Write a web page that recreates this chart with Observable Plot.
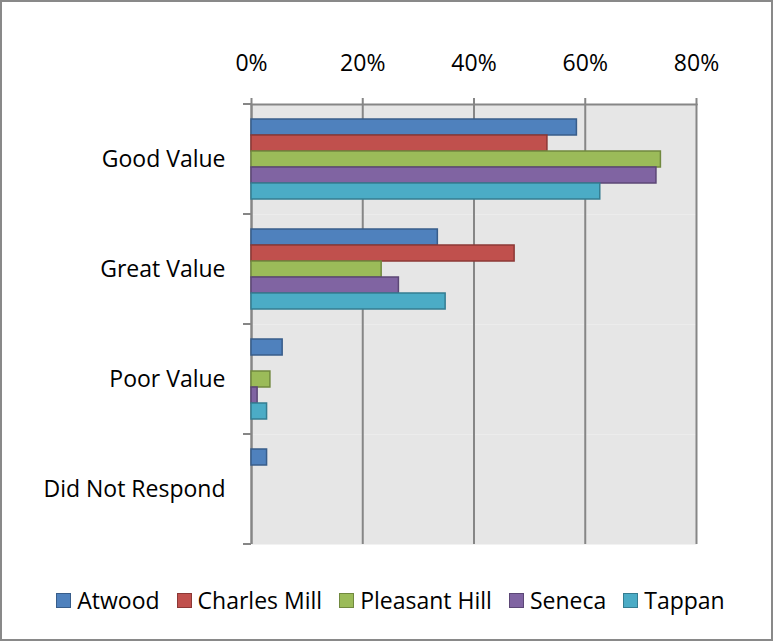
<!DOCTYPE html>
<html><head>
<meta charset="utf-8">
<script src="https://cdn.jsdelivr.net/npm/d3@7"></script>
<script src="https://cdn.jsdelivr.net/npm/@observablehq/plot@0.6"></script>
<style>
body{margin:0;background:#fff;}
#wrap{position:relative;width:773px;height:641px;overflow:hidden;font-family:"Open Sans",sans-serif;background:#fff;}
#chart{position:absolute;left:0;top:0;}
#border{position:absolute;left:0;top:0;width:773px;height:641px;box-sizing:border-box;border:2px solid #898989;pointer-events:none;}
#legend{position:absolute;left:0;top:584px;width:773px;box-sizing:border-box;padding-left:8px;display:flex;justify-content:center;gap:17px;font-size:23px;color:#000;line-height:32px;}
.item{display:flex;align-items:center;gap:6px;}
.sw{width:13px;height:13px;border:1px solid;}
</style></head>
<body><div id="wrap"><div id="chart"></div><div id="legend"></div><div id="border"></div></div>
<script>
const categories = ["Good Value", "Great Value", "Poor Value", "Did Not Respond"];
const series = ["Atwood", "Charles Mill", "Pleasant Hill", "Seneca", "Tappan"];
const atwood = [58.5, 33.5, 5.6, 2.8];
const charlesMill = [53.2, 47.3, 0, 0];
const pleasantHill = [73.6, 23.4, 3.4, 0];
const seneca = [72.8, 26.5, 1.1, 0];
const tappan = [62.7, 34.9, 2.8, 0];
const xTicks = [0, 20, 40, 60, 80];
const fills = ["#4F81BD", "#C0504D", "#9BBB59", "#8064A2", "#4BACC6"];
const strokes = ["#385D8A", "#8C3836", "#71893F", "#5C4776", "#357D91"];

const values = [atwood, charlesMill, pleasantHill, seneca, tappan];
const rows = [];
series.forEach((s, i) => categories.forEach((c, j) => rows.push({series: s, category: c, value: values[i][j]})));
const strokeOf = s => strokes[series.indexOf(s)];
const GRID = "#868686";

const boundaryTicks = (index, scales, vals, dims) => {
  const {marginLeft, marginTop, height, marginBottom} = dims;
  const p = document.createElementNS("http://www.w3.org/2000/svg", "path");
  p.setAttribute("d", `M${marginLeft - 8},${marginTop}H${marginLeft}M${marginLeft - 8},${height - marginBottom}H${marginLeft}`);
  p.setAttribute("stroke", GRID);
  p.setAttribute("stroke-width", 2);
  p.setAttribute("fill", "none");
  return p;
};

const chart = Plot.plot({
  width: 773,
  height: 560,
  marginTop: 103,
  marginLeft: 251,
  marginRight: 77,
  marginBottom: 15,
  style: {fontFamily: "Open Sans", fontSize: "23px", color: "#000", background: "transparent", overflow: "visible"},
  x: {domain: [0, 80]},
  y: {domain: series, paddingInner: 0, paddingOuter: 0.75, axis: null},
  fy: {domain: categories, padding: 0},
  marks: [
    Plot.frame({fill: "#E6E6E6", stroke: null}),
    Plot.gridX(xTicks, {stroke: GRID, strokeOpacity: 1, strokeWidth: 2}),
    Plot.ruleX([0], {stroke: GRID, strokeWidth: 2}),
    boundaryTicks,
    Plot.barX(rows, {
      filter: d => d.value > 0,
      x: "value", y: "series", fy: "category",
      fill: d => fills[series.indexOf(d.series)],
      stroke: d => strokeOf(d.series),
      strokeWidth: 1.5
    }),
    Plot.frame({anchor: "top", stroke: GRID, strokeWidth: 2, facetAnchor: "top"}),
    Plot.axisX({anchor: "top", ticks: xTicks, tickFormat: d => d + "%", tickSize: 7, tickPadding: 27, stroke: GRID, strokeWidth: 2, fontSize: 23, label: null, color: "#000"}),
    Plot.axisFy({anchor: "left", tickSize: 0, tickPadding: 26, label: null, fontSize: 23})
  ]
});
chart.querySelectorAll("text").forEach(t => t.setAttribute("fill", "#000"));
document.getElementById("chart").appendChild(chart);

const legend = document.getElementById("legend");
series.forEach((s, i) => {
  const item = document.createElement("div");
  item.className = "item";
  const sw = document.createElement("div");
  sw.className = "sw";
  sw.style.background = fills[i];
  sw.style.borderColor = strokes[i];
  const label = document.createElement("span");
  label.textContent = s;
  item.appendChild(sw);
  item.appendChild(label);
  legend.appendChild(item);
});
</script>
</body></html>
